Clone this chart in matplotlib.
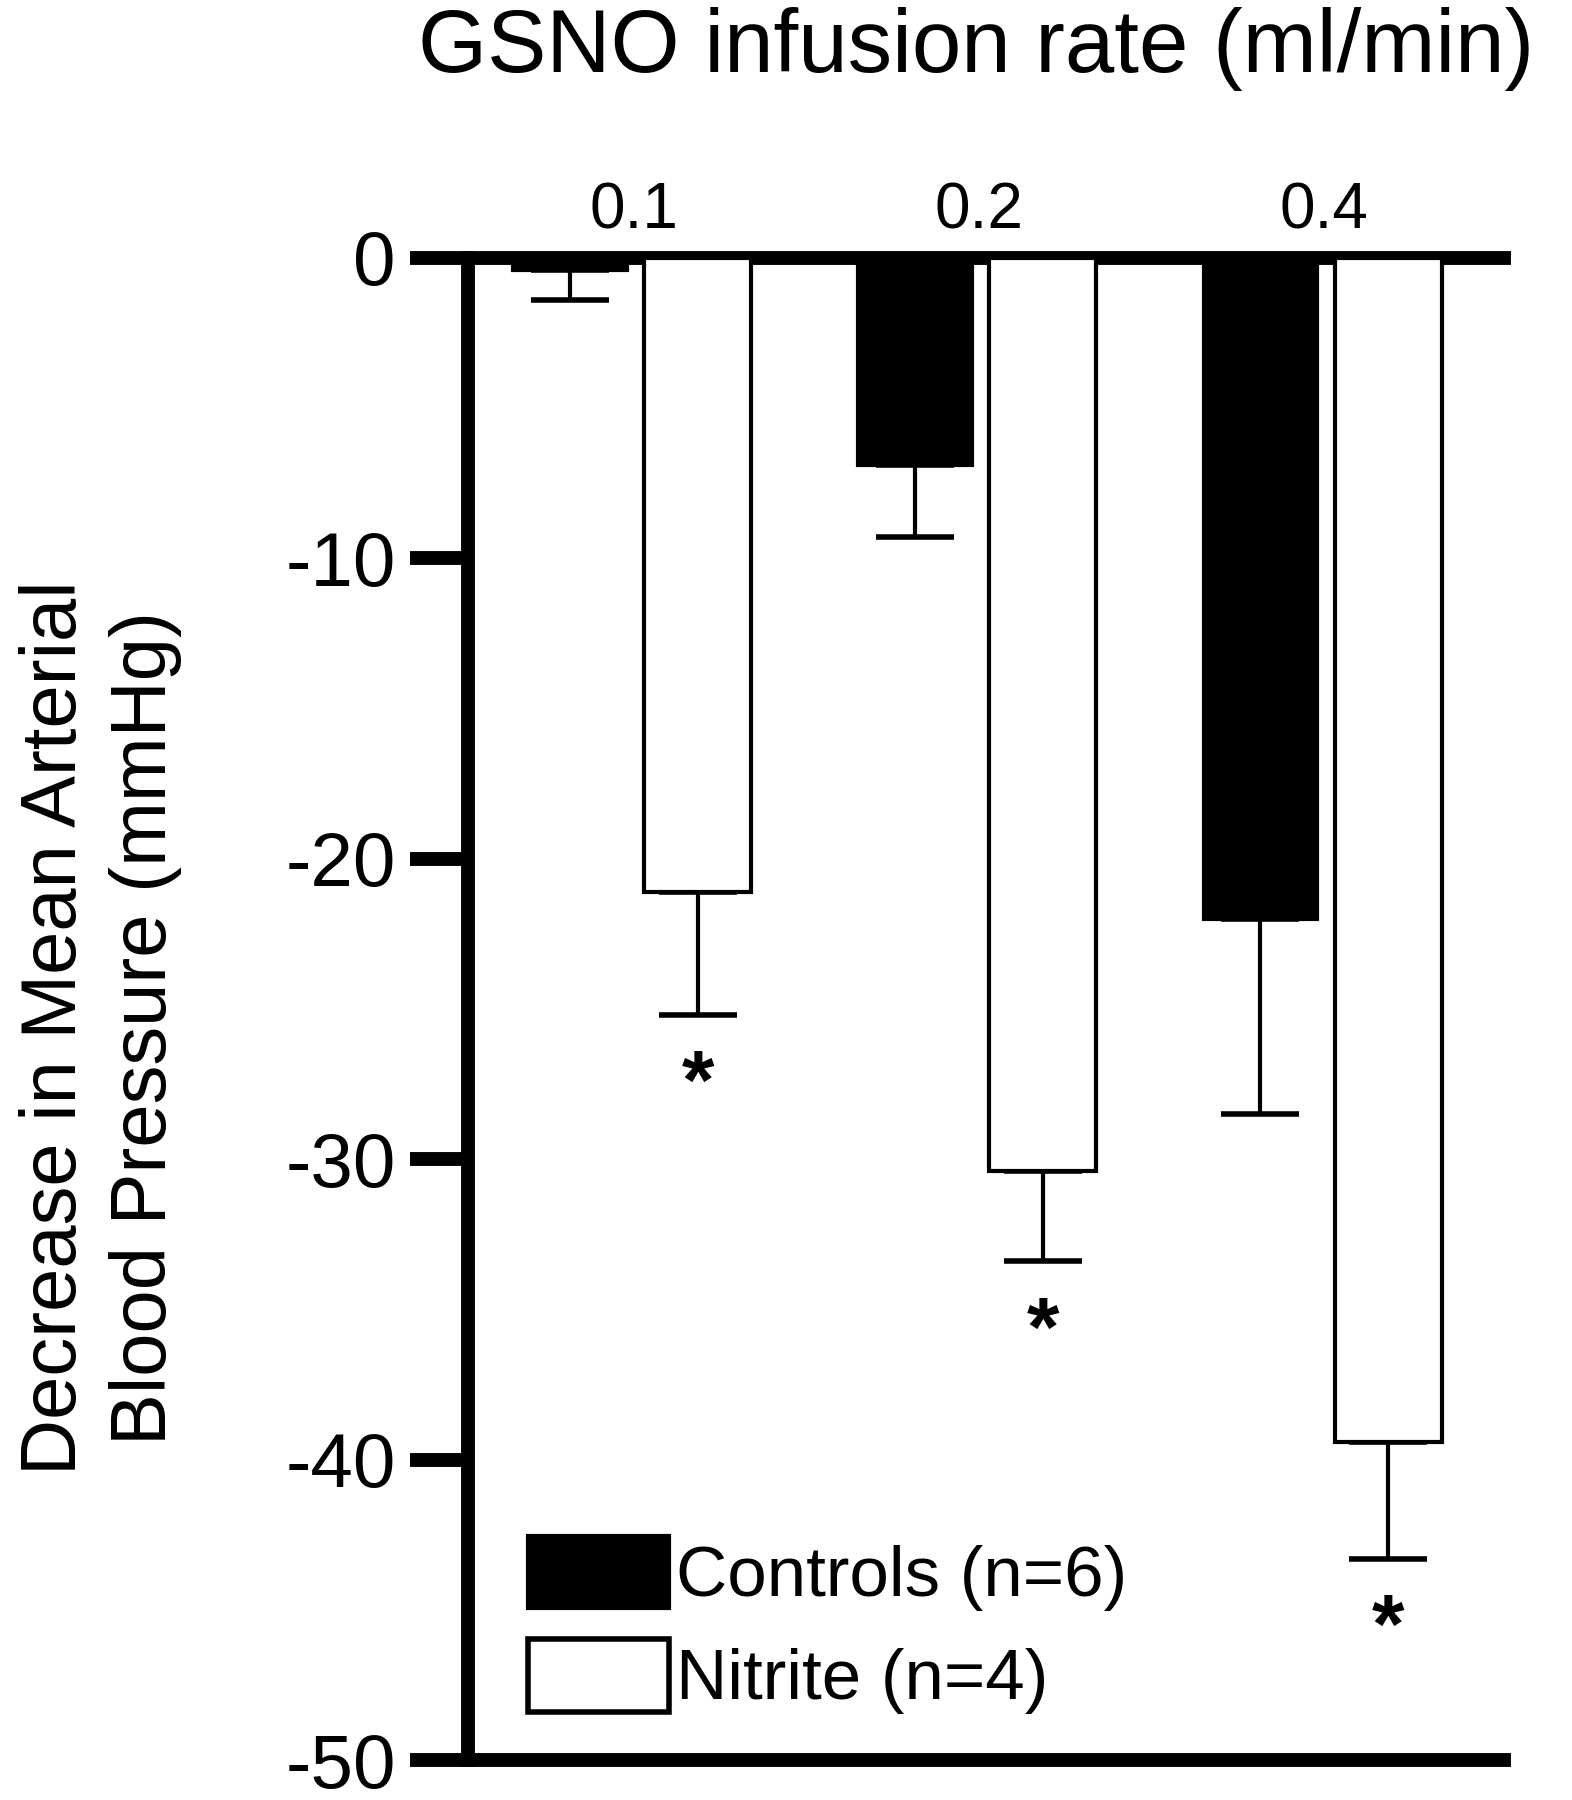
import numpy as np
import matplotlib
matplotlib.use("Agg")
import matplotlib.pyplot as plt
from matplotlib.patches import Patch

plt.rcParams['font.family'] = ['Liberation Sans', 'DejaVu Sans']

rates = ['0.1', '0.2', '0.4']
controls = [-0.4, -6.9, -22.0]
controls_err = [1.0, 2.4, 6.5]
nitrite = [-21.1, -30.4, -39.4]
nitrite_err = [4.1, 3.0, 3.9]
series_labels = ['Controls (n=6)', 'Nitrite (n=4)']

fig = plt.figure(figsize=(15.72, 18), dpi=100)
ax = fig.add_axes([0.2977, 0.0222, 0.659, 0.8345])

x = np.arange(len(rates))
off = 0.185

ax.bar(x - off, controls, 0.33, color='black', edgecolor='black', linewidth=3, zorder=3)
ax.bar(x + off, nitrite, 0.31, color='white', edgecolor='black', linewidth=3, zorder=3)

ax.errorbar(x - off, controls, yerr=[controls_err, np.zeros(3)], fmt='none',
            ecolor='black', elinewidth=3, capsize=28, capthick=4, zorder=2)
ax.errorbar(x + off, nitrite, yerr=[nitrite_err, np.zeros(3)], fmt='none',
            ecolor='black', elinewidth=3, capsize=28, capthick=4, zorder=2)

# significance stars under nitrite bars
for xi, v, e in zip(x + off, nitrite, nitrite_err):
    ax.text(xi, v - e - 2.4, '*', ha='center', va='center', fontsize=60, fontweight='bold')

ax.set_ylim(-50, 0)
ax.set_xlim(-0.48, 2.52)
ax.set_yticks([0, -10, -20, -30, -40, -50])
ax.set_yticklabels(['0', '-10', '-20', '-30', '-40', '-50'])

ax.xaxis.tick_top()
ax.set_xticks(x)
ax.set_xticklabels(rates)
ax.tick_params(axis='x', length=0, pad=12, labelsize=46)
ax.tick_params(axis='y', length=42, width=10, pad=10, labelsize=55)

for s in ['top', 'left', 'bottom']:
    ax.spines[s].set_linewidth(10)
ax.spines['right'].set_visible(False)

fig.text(0.064, 0.429, 'Decrease in Mean Arterial\nBlood Pressure (mmHg)', fontsize=56,
         rotation=90, ha='center', va='center', linespacing=1.3, multialignment='center')

fig.text(0.621, 0.973, 'GSNO infusion rate (ml/min)', ha='center', va='center', fontsize=64)

handles = [Patch(facecolor='black', edgecolor='black', linewidth=3),
           Patch(facecolor='white', edgecolor='black', linewidth=4)]
ax.legend(handles, series_labels, loc='lower left', bbox_to_anchor=(-0.004, -0.012),
          frameon=False, fontsize=51, handlelength=2.0, handleheight=1.2,
          handletextpad=0.1, labelspacing=0.4)

fig.savefig('out.png', dpi=100)
